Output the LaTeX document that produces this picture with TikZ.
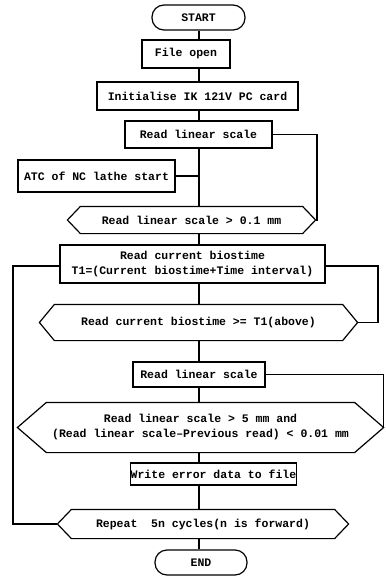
\documentclass[tikz,border=0pt]{standalone}
\usepackage{fontspec}
\setmonofont{Liberation Mono}
\begin{document}
\begin{tikzpicture}[x=1pt,y=-1pt,line width=1.2pt,
  every node/.style={font=\ttfamily\bfseries\fontsize{11.5}{15}\selectfont,inner sep=0pt,align=center},
  box/.style={draw,rectangle},
  term/.style={draw,rounded corners=12pt},
  hexa/.style={}]
\useasboundingbox (0,0) rectangle (385,588);
\coordinate (spine) at (199,0);
\coordinate (r1) at (317,0);
\coordinate (r2) at (378,0);
\coordinate (l1) at (13,0);

\node[term,minimum width=93pt,minimum height=25pt] (start) at (198.5,17.5) {START};
\node[box,minimum width=88pt,minimum height=28pt] (fopen) at (186,54) {File open};
\node[box,minimum width=201pt,minimum height=28pt] (init) at (197.5,96) {Initialise IK 121V PC card};
\node[box,minimum width=147pt,minimum height=27pt] (rls1) at (198.5,134.5) {Read linear scale};
\node[box,minimum width=157pt,minimum height=32pt] (atc) at (96.5,176) {ATC of NC lathe start};
\node[hexa,minimum width=247pt,minimum height=26pt] (d1) at (191.5,220) {Read linear scale > 0.1 mm};
\node[box,minimum width=265pt,minimum height=38pt] (t1) at (192.5,264) {Read current biostime\\T1=(Current biostime+Time interval)};
\node[hexa,minimum width=317pt,minimum height=35pt] (d2) at (198.5,322.5) {Read current biostime >= T1(above)};
\node[box,minimum width=132pt,minimum height=25pt] (rls2) at (199,374.5) {Read linear scale};
\node[hexa,minimum width=365pt,minimum height=49pt] (d3) at (200.5,427.5) {Read linear scale > 5 mm and\\(Read linear scale–Previous read) < 0.01 mm};
\node[box,minimum width=157pt,minimum height=22pt] (write) at (213.5,474) {Write error data to file};
\node[hexa,minimum width=290pt,minimum height=28pt] (d4) at (203,524) {Repeat\ \ 5n cycles(n is forward)};
\node[term,minimum width=92pt,minimum height=25pt] (end) at (201,562.5) {END};

\coordinate (t1e) at ([yshift=-2pt]t1.east);
\coordinate (t1w) at ([yshift=-2pt]t1.west);

\foreach \n/\i in {d1/13,d2/15,d3/29,d4/14}
  \draw ([xshift=\i pt]\n.north west) -- ([xshift=-\i pt]\n.north east) -- (\n.east)
    -- ([xshift=-\i pt]\n.south east) -- ([xshift=\i pt]\n.south west) -- (\n.west) -- cycle;

\draw (spine |- start.south) -- (spine |- fopen.north);
\draw (spine |- fopen.south) -- (spine |- init.north);
\draw (spine |- init.south) -- (spine |- rls1.north);
\draw (spine |- rls1.south) -- (spine |- d1.north);
\draw (atc.east) -- (spine |- atc.east);
\draw (spine |- d1.south) -- (spine |- t1.north);
\draw (spine |- t1.south) -- (spine |- d2.north);
\draw (spine |- d2.south) -- (spine |- rls2.north);
\draw (spine |- rls2.south) -- (spine |- d3.north);
\draw (spine |- d3.south) -- (spine |- write.north);
\draw (spine |- write.south) -- (spine |- d4.north);
\draw (spine |- d4.south) -- (spine |- end.north);

\draw (rls1.east) -- (r1 |- rls1.east) -- (r1 |- d1.east) -- (d1.east);
\draw (t1e) -- (r2 |- t1e) -- (r2 |- d2.east) -- (d2.east);
\draw (t1w) -- (l1 |- t1w) -- (l1 |- d4.west) -- (d4.west);
\draw (rls2.east) -- (d3.east |- rls2.east) -- (d3.east);
\end{tikzpicture}
\end{document}
